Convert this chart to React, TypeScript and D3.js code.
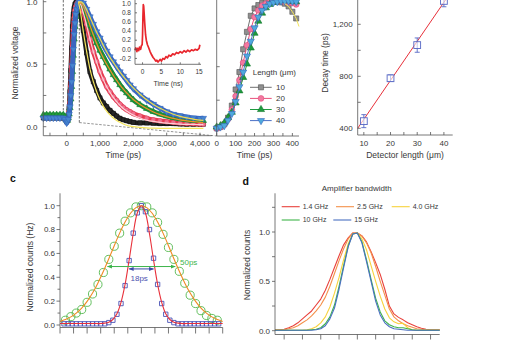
import React from 'react';
import * as d3 from 'd3';

const FONT = '"Liberation Sans", Arial, Helvetica, sans-serif';
const INK = '#383838';
const AXIS = '#555555';

// ---------- Panel a: transient response ----------
const aTime = [-700, -600, -500, -400, -300, -200, -100, -50,
  0, 25, 50, 75, 100, 125, 150, 175, 200, 225, 250, 275, 300, 325, 350, 375, 400,
  500, 600, 700, 800, 900, 1000, 1100, 1200, 1300, 1400, 1500, 1600, 1700, 1800, 1900, 2000,
  2200, 2400, 2600, 2800, 3000, 3200, 3400, 3600, 3800, 4000, 4100];
const aLen10 = [0.07, 0.07, 0.07, 0.07, 0.07, 0.07, 0.07, 0.06,
  0.04, 0.05, 0.09, 0.15, 0.28, 0.45, 0.63, 0.8, 0.9, 0.95, 0.98, 0.99, 1.0, 0.995, 0.98, 0.955, 0.92,
  0.77, 0.59, 0.44, 0.36, 0.29, 0.23, 0.19, 0.16, 0.13, 0.107, 0.085, 0.067, 0.055, 0.048, 0.04, 0.035,
  0.03, 0.03, 0.028, 0.025, 0.025, 0.025, 0.022, 0.02, 0.02, 0.02, 0.02];
const aLen20 = [0.08, 0.08, 0.08, 0.08, 0.08, 0.08, 0.08, 0.07,
  0.04, 0.05, 0.08, 0.12, 0.2, 0.32, 0.48, 0.64, 0.78, 0.87, 0.93, 0.96, 0.98, 0.99, 1.0, 0.995, 0.99,
  0.92, 0.82, 0.7, 0.6, 0.52, 0.44, 0.38, 0.32, 0.28, 0.24, 0.21, 0.18, 0.155, 0.135, 0.12, 0.105,
  0.085, 0.068, 0.055, 0.047, 0.04, 0.035, 0.03, 0.027, 0.025, 0.022, 0.02];
const aLen30 = [0.095, 0.095, 0.095, 0.095, 0.095, 0.095, 0.095, 0.08,
  0.05, 0.05, 0.07, 0.1, 0.15, 0.22, 0.32, 0.44, 0.57, 0.7, 0.8, 0.88, 0.93, 0.96, 0.98, 0.99, 0.995,
  0.97, 0.9, 0.81, 0.74, 0.67, 0.61, 0.56, 0.51, 0.46, 0.415, 0.375, 0.335, 0.3, 0.27, 0.24, 0.215,
  0.175, 0.145, 0.12, 0.1, 0.085, 0.072, 0.062, 0.055, 0.05, 0.048, 0.048];
const aLen40 = [0.07, 0.07, 0.07, 0.07, 0.07, 0.07, 0.07, 0.06,
  0.03, 0.04, 0.06, 0.1, 0.16, 0.25, 0.36, 0.49, 0.62, 0.74, 0.83, 0.9, 0.94, 0.97, 0.985, 0.995, 1.0,
  0.99, 0.94, 0.88, 0.82, 0.76, 0.71, 0.655, 0.605, 0.56, 0.52, 0.48, 0.44, 0.405, 0.37, 0.335, 0.305,
  0.255, 0.214, 0.18, 0.148, 0.12, 0.1, 0.088, 0.078, 0.07, 0.067, 0.068];

const aFitTime = [350, 400, 500, 600, 700, 800, 900, 1000, 1100, 1200, 1300, 1400, 1500, 1600, 1700, 1800, 1900, 2000,
  2200, 2400, 2600, 2800, 3000, 3200, 3400, 3600, 3800, 4000, 4100];
const aFit10 = [1.0, 0.94, 0.76, 0.6, 0.46, 0.36, 0.28, 0.215, 0.165, 0.125, 0.095, 0.07, 0.05, 0.035, 0.022, 0.012, 0.005, 0.0,
  -0.006, -0.01, -0.012, -0.013, -0.013, -0.013, -0.013, -0.013, -0.013, -0.013, -0.013];
const aFit20 = [1.0, 0.99, 0.91, 0.81, 0.7, 0.6, 0.515, 0.44, 0.375, 0.32, 0.275, 0.235, 0.2, 0.17, 0.145, 0.125, 0.108, 0.093,
  0.07, 0.053, 0.042, 0.034, 0.028, 0.024, 0.021, 0.019, 0.018, 0.017, 0.017];
const aFit30 = [0.98, 0.99, 0.96, 0.89, 0.81, 0.735, 0.665, 0.605, 0.55, 0.5, 0.455, 0.41, 0.37, 0.333, 0.3, 0.27, 0.243, 0.218,
  0.178, 0.145, 0.118, 0.097, 0.08, 0.066, 0.055, 0.047, 0.04, 0.035, 0.033];
const aFit40 = [0.985, 1.0, 0.985, 0.935, 0.875, 0.815, 0.755, 0.705, 0.65, 0.6, 0.555, 0.515, 0.475, 0.437, 0.402, 0.37, 0.338, 0.31,
  0.26, 0.215, 0.178, 0.147, 0.122, 0.1, 0.083, 0.07, 0.06, 0.052, 0.05];
const aXLabels = [0, 1000, 2000, 3000, 4000];
const aYLabels = [0, 0.5, 1];

// inset (ns)
const insetTime = [-2, -1.8, -1.5, -1.3, -1.0, -0.8, -0.5, -0.3, -0.1, 0.0, 0.1, 0.2, 0.3, 0.4, 0.5, 0.6, 0.8, 1.0, 1.3, 1.6,
  2.0, 2.4, 2.8, 3.2, 3.5, 3.8, 4.1, 4.4, 4.7, 5.0, 5.4, 5.8, 6.2, 6.6, 7.0, 7.5, 8.0, 8.5, 9.0, 9.5,
  10, 10.5, 11, 11.5, 12, 12.5, 13, 13.5, 14, 14.5, 15, 15.2];
const insetVolt = [-0.02, 0.03, -0.05, 0.02, -0.03, 0.05, 0.0, 0.08, 0.1, 0.3, 0.7, 0.98, 0.95, 0.82, 0.68, 0.55, 0.32, 0.2, 0.1, 0.04,
  -0.05, -0.12, -0.18, -0.22, -0.26, -0.24, -0.28, -0.25, -0.22, -0.26, -0.2, -0.22, -0.16, -0.19, -0.13, -0.15, -0.1, -0.12, -0.07, -0.09,
  -0.05, -0.08, -0.03, -0.06, -0.02, -0.05, -0.01, -0.03, 0.0, -0.02, 0.02, 0.1];
const insetXLabels = [0, 5, 10, 15];
const insetYLabels = [-0.2, 0, 0.2, 0.4, 0.6, 0.8, 1.0];

// ---------- Panel b: rising edge ----------
const bTime = [0, 20, 40, 60, 80, 100, 120, 140, 160, 180, 200, 220, 240, 260, 280, 300, 320, 340, 360, 380, 400, 420];
const bLen10 = [0.04, 0.05, 0.07, 0.12, 0.21, 0.33, 0.46, 0.63, 0.76, 0.88, 0.935, 0.96, 0.975, 0.985, 0.99, 0.99, 0.985, 0.98, 0.97, 0.95, 0.91, 0.86];
const bLen20 = [0.04, 0.05, 0.07, 0.11, 0.18, 0.28, 0.4, 0.53, 0.66, 0.78, 0.87, 0.92, 0.955, 0.97, 0.98, 0.985, 0.99, 0.99, 0.985, 0.98, 0.975, 0.965];
const bLen30 = [0.05, 0.06, 0.08, 0.12, 0.16, 0.23, 0.32, 0.42, 0.52, 0.64, 0.75, 0.84, 0.9, 0.94, 0.965, 0.98, 0.99, 0.993, 0.993, 0.99, 0.988, 0.985];
const bLen40 = [0.04, 0.05, 0.06, 0.1, 0.15, 0.24, 0.35, 0.46, 0.58, 0.69, 0.79, 0.87, 0.92, 0.95, 0.97, 0.98, 0.985, 0.99, 0.99, 0.99, 0.988, 0.985];
const bFit10Time = [360, 380, 400, 420, 435];
const bFit10 = [0.97, 0.95, 0.91, 0.86, 0.8];
const bXLabels = [0, 100, 200, 300, 400];
const lengthLabels = ['10', '20', '30', '40'];

// ---------- Decay time vs length ----------
const detLength = [10, 20, 30, 40];
const decayTime = [455, 785, 1040, 1380];
const decayErr = [50, 25, 55, 45];
const decayFitLength = [7.7, 41.2];
const decayFitTime = [400, 1405];
const decayYLabels = [400, 800, 1200];
const decayXLabels = [10, 20, 30, 40];

// ---------- Panel c: jitter histograms ----------
const cCircleT = [-56, -52, -48, -44, -40, -36, -32, -28, -24, -20, -16, -12, -8, -4, 0, 4, 8, 12, 16, 20, 24, 28, 32, 36, 40, 44, 48, 52, 56];
const cCircleV = [0.04, 0.07, 0.1, 0.13, 0.19, 0.26, 0.34, 0.44, 0.55, 0.66, 0.77, 0.87, 0.94, 0.99, 1.0, 0.99, 0.94, 0.86, 0.76, 0.65, 0.55, 0.45, 0.35, 0.25, 0.18, 0.12, 0.08, 0.055, 0.04];
const cSquareT = [-57, -54, -51, -48, -45, -42, -39, -36, -33, -30, -27, -24, -21, -18, -15, -12, -9, -6, -3, 0, 3, 6, 9, 12, 15, 18, 21, 24, 27, 30, 33, 36, 39, 42, 45, 48, 51, 54, 57];
const cSquareV = [0.01, 0.01, 0.01, 0.01, 0.01, 0.01, 0.01, 0.01, 0.01, 0.01, 0.01,
  0.02, 0.04, 0.09, 0.18, 0.33, 0.54, 0.77, 0.94, 1.0, 0.95, 0.8, 0.56, 0.34, 0.18, 0.09, 0.04, 0.02,
  0.01, 0.01, 0.01, 0.01, 0.01, 0.01, 0.01, 0.01, 0.01, 0.01, 0.01];
const cRedFitT = [-60, -57, -54, -51, -48, -45, -42, -39, -36, -33, -30, -27, -24, -21, -18, -15, -12, -9, -6, -3, 0, 3, 6, 9, 12, 15, 18, 21, 24, 27, 30, 33, 36, 39, 42, 45, 48, 51, 54, 57, 60];
const cRedFitV = [0.012, 0.012, 0.012, 0.012, 0.012, 0.012, 0.012, 0.012, 0.012, 0.012, 0.012,
  0.016, 0.024, 0.046, 0.094, 0.19, 0.34, 0.545, 0.765, 0.939, 1.0, 0.939, 0.765, 0.545, 0.34, 0.19, 0.094, 0.046, 0.024, 0.016,
  0.012, 0.012, 0.012, 0.012, 0.012, 0.012, 0.012, 0.012, 0.012, 0.012, 0.012];
const cOrangeFitT = [-60, -56, -52, -48, -44, -40, -36, -32, -28, -24, -20, -16, -12, -8, -4, 0, 4, 8, 12, 16, 20, 24, 28, 32, 36, 40, 44, 48, 52, 56, 60];
const cOrangeFitV = [0.03, 0.046, 0.068, 0.1, 0.142, 0.198, 0.268, 0.353, 0.45, 0.555, 0.665, 0.77, 0.863, 0.937, 0.984, 1.0,
  0.984, 0.937, 0.863, 0.77, 0.665, 0.555, 0.45, 0.353, 0.268, 0.198, 0.142, 0.1, 0.068, 0.046, 0.03];
const cYLabels = [0, 0.2, 0.4, 0.6, 0.8, 1.0];

// ---------- Panel d: amplifier bandwidth ----------
const dTime = [-90, -85, -80, -75, -70, -65, -60, -55, -50, -45, -40, -35, -30, -25, -20, -15, -10, -5,
  0, 5, 10, 15, 20, 25, 30, 35, 40, 45, 50, 55, 60, 65, 70, 75, 80, 85, 90];
const d14GHz = [0.01, 0.01, 0.015, 0.03, 0.05, 0.08, 0.12, 0.16, 0.2, 0.26, 0.32, 0.41, 0.52, 0.64, 0.76, 0.87, 0.94, 0.99,
  0.99, 0.96, 0.9, 0.8, 0.69, 0.57, 0.42, 0.25, 0.17, 0.135, 0.11, 0.08, 0.06, 0.04, 0.025, 0.015, 0.01, 0.01, 0.01];
const d25GHz = [0.01, 0.01, 0.01, 0.02, 0.03, 0.05, 0.08, 0.11, 0.15, 0.2, 0.26, 0.34, 0.45, 0.58, 0.71, 0.83, 0.93, 0.99,
  0.99, 0.96, 0.89, 0.79, 0.65, 0.5, 0.36, 0.22, 0.14, 0.1, 0.07, 0.05, 0.035, 0.02, 0.015, 0.01, 0.01, 0.01, 0.01];
const d40GHz = [0.005, 0.005, 0.005, 0.005, 0.005, 0.005, 0.005, 0.01, 0.02, 0.04, 0.08, 0.14, 0.24, 0.38, 0.54, 0.72, 0.88, 0.98,
  0.99, 0.93, 0.82, 0.66, 0.5, 0.35, 0.22, 0.13, 0.09, 0.07, 0.075, 0.03, 0.01, 0.005, 0.005, 0.005, 0.005, 0.005, 0.005];
const d10GHz = [0.005, 0.005, 0.005, 0.005, 0.005, 0.005, 0.005, 0.005, 0.01, 0.015, 0.03, 0.07, 0.14, 0.26, 0.45, 0.66, 0.86, 0.98,
  0.99, 0.9, 0.72, 0.52, 0.33, 0.19, 0.1, 0.06, 0.04, 0.03, 0.03, 0.02, 0.01, 0.005, 0.005, 0.005, 0.005, 0.005, 0.005];
const d15GHz = [0.005, 0.005, 0.005, 0.005, 0.005, 0.005, 0.005, 0.005, 0.005, 0.01, 0.02, 0.05, 0.12, 0.23, 0.42, 0.64, 0.85, 0.98,
  0.99, 0.89, 0.7, 0.5, 0.3, 0.16, 0.08, 0.04, 0.02, 0.015, 0.01, 0.005, 0.005, 0.005, 0.005, 0.005, 0.005, 0.005, 0.005];
const dLabels = ['1.4 GHz', '2.5 GHz', '4.0 GHz', '10 GHz', '15 GHz'];
const dYLabels = [0, 0.5, 1];

// ---------- helpers ----------
function pathOf(xs: number[], ys: number[], sx: any, sy: any, curve: any = d3.curveLinear) {
  return d3.line<number>().x((_, i) => sx(xs[i])).y((d) => sy(d)).curve(curve)(ys) || '';
}
const symPath = (type: any, size: number) => d3.symbol().type(type).size(size)() || '';

function Markers(props: { xs: number[]; ys: number[]; sx: any; sy: any; type: any; size: number; fill: string; stroke: string; sw?: number; rot?: number }) {
  const { xs, ys, sx, sy, type, size, fill, stroke, sw = 0.6, rot = 0 } = props;
  const d = symPath(type, size);
  return (
    <g>
      {ys.map((v, i) => (
        <path key={i} d={d} transform={`translate(${sx(xs[i])},${sy(v)})${rot ? ` rotate(${rot})` : ''}`} fill={fill} stroke={stroke} strokeWidth={sw} />
      ))}
    </g>
  );
}

const fmtComma = d3.format(',');
const fmt1 = d3.format('.1f');

export default function App() {
  // scales
  const xA = d3.scaleLinear().domain([-700, 4350]).range([43.3, 211.7]);
  const yA = d3.scaleLinear().domain([0, 1]).range([126.7, 1.7]);
  const aBottom = 135.7;

  const xI = d3.scaleLinear().domain([-2, 15.5]).range([135, 201]);
  const yI = d3.scaleLinear().domain([0, 1]).range([49.3, 3.7]);
  const iBottom = 64.3;

  const xB = d3.scaleLinear().domain([0, 435]).range([216.7, 299]);
  const yB = d3.scaleLinear().domain([0, 1]).range([133.7, -0.3]);
  const bBottom = 136;

  const xD = d3.scaleLinear().domain([7.7, 43.3]).range([357.7, 452.7]);
  const yD = d3.scaleLinear().domain([400, 1200]).range([128.3, 24.3]);
  const dBottom = 135;

  const xC = d3.scaleLinear().domain([-60, 60]).range([60, 222.7]);
  const yC = d3.scaleLinear().domain([0, 1]).range([325, 205.7]);
  const cBottom = 327.5;

  const xE = d3.scaleLinear().domain([-90, 90]).range([275, 439.7]);
  const yE = d3.scaleLinear().domain([0, 1]).range([330.7, 232]);
  const eBottom = 334.5;

  const seriesA = [
    { v: aLen10, band: '#1c1c1c', fill: '#262626', stroke: '#111', type: d3.symbolSquare, size: 18, rot: 0 },
    { v: aLen20, band: '#e63a4e', fill: '#ef6f8c', stroke: '#e03a55', type: d3.symbolCircle, size: 18, rot: 0 },
    { v: aLen30, band: '#1f8f3a', fill: '#1f9a3c', stroke: '#177a2e', type: d3.symbolTriangle, size: 18, rot: 0 },
    { v: aLen40, band: '#3b66c0', fill: '#4585cf', stroke: '#3560bb', type: d3.symbolTriangle, size: 18, rot: 180 },
  ];
  const fitsA = [
    { v: aFit10, c: '#f3e45a' },
    { v: aFit20, c: '#fbd0d6' },
    { v: aFit30, c: '#f0902a' },
    { v: aFit40, c: '#efdb4c' },
  ];
  const seriesB = [
    { v: bLen10, line: '#707070', fill: '#8f8f8f', stroke: '#505050', type: d3.symbolSquare, size: 26, rot: 0 },
    { v: bLen20, line: '#e8507a', fill: '#f279a0', stroke: '#e04c7c', type: d3.symbolCircle, size: 26, rot: 0 },
    { v: bLen30, line: '#1e9a3e', fill: '#1e9a3e', stroke: '#12772c', type: d3.symbolTriangle, size: 22, rot: 0 },
    { v: bLen40, line: '#4a70c6', fill: '#4ea9dd', stroke: '#3a68c0', type: d3.symbolTriangle, size: 22, rot: 180 },
  ];
  const seriesE = [
    { v: d14GHz, c: '#e8413c' },
    { v: d25GHz, c: '#f4904a' },
    { v: d40GHz, c: '#f7d23c' },
    { v: d10GHz, c: '#3fb54a' },
    { v: d15GHz, c: '#4a6fc1' },
  ];
  const legendE = [
    { x: 281.7, y: 206.7 }, { x: 336, y: 206.7 }, { x: 391.7, y: 206.7 }, { x: 281.7, y: 220 }, { x: 333.3, y: 220 },
  ];

  const tickStyle = { stroke: AXIS, strokeWidth: 0.8 };
  const txt = { fontFamily: FONT, fill: INK } as const;

  return (
    <svg width={516} height={340} style={{ position: 'absolute', left: 0, top: 0, background: '#fff' }}>
      <rect width={516} height={340} fill="#fff" />

      {/* ===== Panel a ===== */}
      <g>
        <line x1={xA(-100)} x2={xA(-100)} y1={0} y2={yA(0.09)} stroke="#333" strokeWidth={0.7} strokeDasharray="2.5,1.5" />
        <line x1={xA(380)} x2={xA(380)} y1={0} y2={yA(0.033)} stroke="#333" strokeWidth={0.7} strokeDasharray="2.5,1.5" />
        <line x1={xA(380)} y1={yA(0.033)} x2={xB(0)} y2={bBottom} stroke="#666" strokeWidth={0.7} strokeDasharray="2.5,1.5" />

        {seriesA.map((s, k) => (
          <g key={k}>
            <path d={pathOf(aTime, s.v, xA, yA, d3.curveMonotoneX)} fill="none" stroke={s.band} strokeWidth={4.8} strokeLinejoin="round" />
            <Markers xs={aTime} ys={s.v} sx={xA} sy={yA} type={s.type} size={s.size} fill={s.fill} stroke={s.stroke} sw={0.5} rot={s.rot} />
          </g>
        ))}
        {fitsA.map((f, k) => (
          <path key={k} d={pathOf(aFitTime, f.v, xA, yA, d3.curveMonotoneX)} fill="none" stroke={f.c} strokeWidth={1.2} />
        ))}

        <line x1={xA(-700)} x2={xA(-700)} y1={-2} y2={aBottom} {...tickStyle} />
        <line x1={xA(-700)} x2={xA(4350)} y1={aBottom} y2={aBottom} {...tickStyle} />
        {[0, 0.25, 0.5, 0.75, 1].map((v) => (
          <line key={v} x1={xA(-700)} x2={xA(-700) + 3} y1={yA(v)} y2={yA(v)} {...tickStyle} />
        ))}
        {d3.range(-500, 4001, 500).map((t) => (
          <line key={t} x1={xA(t)} x2={xA(t)} y1={aBottom} y2={aBottom - 3} {...tickStyle} />
        ))}
        {aYLabels.map((v) => (
          <text key={v} x={37.5} y={yA(v)} dy="0.35em" textAnchor="end" fontSize={8} {...txt}>{fmt1(v)}</text>
        ))}
        {aXLabels.map((t) => (
          <text key={t} x={xA(t)} y={146} textAnchor="middle" fontSize={8} {...txt}>{fmtComma(t)}</text>
        ))}
        <text x={xA(1700)} y={158} textAnchor="middle" fontSize={8.5} {...txt}>Time (ps)</text>
        <text transform="translate(15,63) rotate(-90)" dy="0.35em" textAnchor="middle" fontSize={8.5} {...txt}>Normalized voltage</text>

        {/* inset */}
        <path d={pathOf(insetTime, insetVolt, xI, yI)} fill="none" stroke="#e8262d" strokeWidth={1.7} strokeLinejoin="round" />
        <line x1={xI(-2)} x2={xI(-2)} y1={-2} y2={iBottom} {...tickStyle} />
        <line x1={xI(-2)} x2={xI(15.5)} y1={iBottom} y2={iBottom} {...tickStyle} />
        {insetYLabels.map((v) => (
          <g key={v}>
            <line x1={xI(-2)} x2={xI(-2) + 2} y1={yI(v)} y2={yI(v)} {...tickStyle} />
            <text x={131} y={yI(v)} dy="0.35em" textAnchor="end" fontSize={6.5} {...txt}>{v < 0 ? '-' + fmt1(-v) : fmt1(v)}</text>
          </g>
        ))}
        {insetXLabels.map((t) => (
          <g key={t}>
            <line x1={xI(t)} x2={xI(t)} y1={iBottom} y2={iBottom - 2} {...tickStyle} />
            <text x={xI(t)} y={74} textAnchor="middle" fontSize={6.5} {...txt}>{t}</text>
          </g>
        ))}
        <text x={xI(6.8)} y={85.5} textAnchor="middle" fontSize={7} {...txt}>Time (ns)</text>
      </g>

      {/* ===== Panel b ===== */}
      <g>
        {seriesB.map((s, k) => (
          <g key={k}>
            <path d={pathOf(bTime, s.v, xB, yB)} fill="none" stroke={s.line} strokeWidth={1} />
            <Markers xs={bTime} ys={s.v} sx={xB} sy={yB} type={s.type} size={s.size} fill={s.fill} stroke={s.stroke} sw={0.6} rot={s.rot} />
          </g>
        ))}
        <path d={pathOf(bFit10Time, bFit10, xB, yB)} fill="none" stroke="#f3e45a" strokeWidth={1} />
        <line x1={xB(0)} x2={xB(0)} y1={-2} y2={bBottom} {...tickStyle} />
        <line x1={xB(0)} x2={xB(435)} y1={bBottom} y2={bBottom} {...tickStyle} />
        {[0.25, 0.5, 0.75].map((v) => (
          <line key={v} x1={xB(0)} x2={xB(0) + 3} y1={yB(v)} y2={yB(v)} {...tickStyle} />
        ))}
        {d3.range(0, 401, 50).map((t) => (
          <line key={t} x1={xB(t)} x2={xB(t)} y1={bBottom} y2={bBottom - 3} {...tickStyle} />
        ))}
        {bXLabels.map((t) => (
          <text key={t} x={xB(t)} y={146} textAnchor="middle" fontSize={8} {...txt}>{t}</text>
        ))}
        <text x={xB(200)} y={158} textAnchor="middle" fontSize={8.5} {...txt}>Time (ps)</text>

        <text x={252.7} y={75} fontSize={8} {...txt}>Length (μm)</text>
        {seriesB.map((s, k) => {
          const y = 87.3 + k * 11.1;
          return (
            <g key={k}>
              <line x1={250} x2={271.7} y1={y} y2={y} stroke={s.line} strokeWidth={1} />
              <path d={symPath(s.type, s.size)} transform={`translate(261,${y})${s.rot ? ' rotate(180)' : ''}`} fill={s.fill} stroke={s.stroke} strokeWidth={0.6} />
              <text x={276} y={y} dy="0.35em" fontSize={8} {...txt}>{lengthLabels[k]}</text>
            </g>
          );
        })}
      </g>

      {/* ===== Decay time panel ===== */}
      <g>
        <path d={pathOf(decayFitLength, decayFitTime, xD, yD)} fill="none" stroke="#e8303a" strokeWidth={1} />
        {detLength.map((L, i) => (
          <g key={L} stroke="#5566c4" strokeWidth={0.9} fill="none">
            <line x1={xD(L)} x2={xD(L)} y1={yD(decayTime[i] - decayErr[i])} y2={yD(decayTime[i] + decayErr[i])} />
            <line x1={xD(L) - 2.5} x2={xD(L) + 2.5} y1={yD(decayTime[i] - decayErr[i])} y2={yD(decayTime[i] - decayErr[i])} />
            <line x1={xD(L) - 2.5} x2={xD(L) + 2.5} y1={yD(decayTime[i] + decayErr[i])} y2={yD(decayTime[i] + decayErr[i])} />
            <rect x={xD(L) - 3.4} y={yD(decayTime[i]) - 3.4} width={6.8} height={6.8} fill="#fff" fillOpacity={0.6} />
          </g>
        ))}
        <line x1={xD(7.7)} x2={xD(7.7)} y1={-2} y2={dBottom} {...tickStyle} />
        <line x1={xD(7.7)} x2={xD(43.3)} y1={dBottom} y2={dBottom} {...tickStyle} />
        {d3.range(400, 1401, 200).map((v) => (
          <line key={v} x1={xD(7.7)} x2={xD(7.7) + 3} y1={yD(v)} y2={yD(v)} {...tickStyle} />
        ))}
        {d3.range(10, 41, 5).map((L) => (
          <line key={L} x1={xD(L)} x2={xD(L)} y1={dBottom} y2={dBottom - 3} {...tickStyle} />
        ))}
        {decayYLabels.map((v) => (
          <text key={v} x={352.7} y={yD(v)} dy="0.35em" textAnchor="end" fontSize={8} {...txt}>{fmtComma(v)}</text>
        ))}
        {decayXLabels.map((L) => (
          <text key={L} x={xD(L)} y={146} textAnchor="middle" fontSize={8} {...txt}>{L}</text>
        ))}
        <text x={405} y={158} textAnchor="middle" fontSize={8.5} {...txt}>Detector length (μm)</text>
        <text transform="translate(325,63) rotate(-90)" dy="0.35em" textAnchor="middle" fontSize={8.5} {...txt}>Decay time (ps)</text>
      </g>

      {/* ===== Panel c ===== */}
      <g>
        <text x={10} y={182} fontSize={10.5} fontWeight="bold" {...txt} fill="#111">c</text>
        <Markers xs={cCircleT} ys={cCircleV} sx={xC} sy={yC} type={d3.symbolCircle} size={52} fill="none" stroke="#52b84d" sw={0.9} />
        <Markers xs={cSquareT} ys={cSquareV} sx={xC} sy={yC} type={d3.symbolSquare} size={19} fill="none" stroke="#4a52b5" sw={0.9} />
        <path d={pathOf(cOrangeFitT, cOrangeFitV, xC, yC, d3.curveCatmullRom)} fill="none" stroke="#f08a24" strokeWidth={1.1} />
        <path d={pathOf(cRedFitT, cRedFitV, xC, yC, d3.curveCatmullRom)} fill="none" stroke="#e8303a" strokeWidth={1.1} />

        <defs>
          <marker id="agS" viewBox="0 0 10 10" refX="9" refY="5" markerWidth="5" markerHeight="5" orient="auto-start-reverse">
            <path d="M0,1 L10,5 L0,9 z" fill="#3cb44a" />
          </marker>
          <marker id="abS" viewBox="0 0 10 10" refX="9" refY="5" markerWidth="5" markerHeight="5" orient="auto-start-reverse">
            <path d="M0,1 L10,5 L0,9 z" fill="#3a4aa8" />
          </marker>
        </defs>
        <line x1={xC(-25)} x2={xC(25)} y1={yC(0.49)} y2={yC(0.49)} stroke="#3cb44a" strokeWidth={1} markerStart="url(#agS)" markerEnd="url(#agS)" />
        <line x1={xC(-9)} x2={xC(9)} y1={yC(0.47)} y2={yC(0.47)} stroke="#3a4aa8" strokeWidth={1} markerStart="url(#abS)" markerEnd="url(#abS)" />
        <text x={180} y={264.5} fontSize={8} fontFamily={FONT} fill="#3cb44a">50ps</text>
        <text x={130.5} y={281} fontSize={8} fontFamily={FONT} fill="#4a52b0">18ps</text>

        <line x1={xC(-60)} x2={xC(-60)} y1={193.3} y2={cBottom} {...tickStyle} />
        <line x1={xC(-60)} x2={xC(60)} y1={cBottom} y2={cBottom} {...tickStyle} />
        {d3.range(0, 11).map((k) => (
          <line key={k} x1={xC(-60) - (k % 2 === 0 ? 3.5 : 2.5)} x2={xC(-60)} y1={yC(k / 10)} y2={yC(k / 10)} {...tickStyle} />
        ))}
        {d3.range(-60, 61, 10).map((t) => (
          <line key={t} x1={xC(t)} x2={xC(t)} y1={cBottom} y2={cBottom + 6} {...tickStyle} />
        ))}
        {cYLabels.map((v) => (
          <text key={v} x={55} y={yC(v)} dy="0.35em" textAnchor="end" fontSize={8} {...txt}>{fmt1(v)}</text>
        ))}
        <text transform="translate(30,267) rotate(-90)" dy="0.35em" textAnchor="middle" fontSize={8.5} {...txt}>Normalized counts (Hz)</text>
      </g>

      {/* ===== Panel d ===== */}
      <g>
        <text x={242.5} y={184.5} fontSize={10.5} fontWeight="bold" {...txt} fill="#111">d</text>
        <text x={356.7} y={191} textAnchor="middle" fontSize={8} {...txt}>Amplifier bandwidth</text>
        {seriesE.map((s, k) => (
          <path key={k} d={pathOf(dTime, s.v, xE, yE)} fill="none" stroke={s.c} strokeWidth={1.1} strokeLinejoin="round" />
        ))}
        {seriesE.map((s, k) => (
          <g key={k}>
            <line x1={legendE[k].x} x2={legendE[k].x + 18} y1={legendE[k].y} y2={legendE[k].y} stroke={s.c} strokeWidth={1.1} />
            <text x={legendE[k].x + 21} y={legendE[k].y} dy="0.35em" fontSize={7} {...txt}>{dLabels[k]}</text>
          </g>
        ))}
        <line x1={xE(-90)} x2={xE(-90)} y1={193.3} y2={eBottom} {...tickStyle} />
        <line x1={xE(-90)} x2={xE(90)} y1={eBottom} y2={eBottom} {...tickStyle} />
        {[0, 0.25, 0.5, 0.75, 1, 1.25].map((v) => (
          <line key={v} x1={xE(-90) - 3} x2={xE(-90)} y1={yE(v)} y2={yE(v)} {...tickStyle} />
        ))}
        {d3.range(-80, 81, 20).map((t) => (
          <line key={t} x1={xE(t)} x2={xE(t)} y1={eBottom} y2={eBottom + 5} {...tickStyle} />
        ))}
        {dYLabels.map((v) => (
          <text key={v} x={270} y={yE(v)} dy="0.35em" textAnchor="end" fontSize={8} {...txt}>{fmt1(v)}</text>
        ))}
        <text transform="translate(246.7,265) rotate(-90)" dy="0.35em" textAnchor="middle" fontSize={8.5} {...txt}>Normalized counts</text>
      </g>
    </svg>
  );
}
